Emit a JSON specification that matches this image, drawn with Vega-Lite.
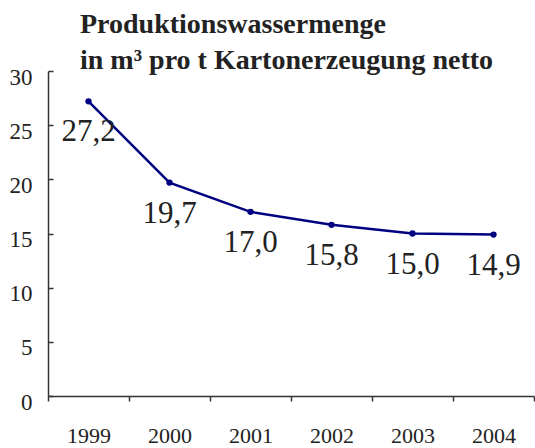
{
  "$schema": "https://vega.github.io/schema/vega-lite/v6.json",
  "width": 486,
  "height": 325,
  "autosize": "none",
  "padding": {"left": 48, "top": 71, "right": 1, "bottom": 52},
  "background": "white",
  "config": {
    "view": {"stroke": null},
    "font": "Liberation Serif",
    "locale": {"number": {"decimal": ",", "thousands": ".", "grouping": [3], "currency": ["", " €"]}}
  },
  "title": {
    "text": ["Produktionswassermenge", "in m³ pro t Kartonerzeugung netto"],
    "anchor": "start",
    "frame": "group",
    "font": "Liberation Serif",
    "fontSize": 28,
    "fontWeight": "bold",
    "color": "#222222",
    "dx": 32,
    "dy": 13,
    "lineHeight": 36,
    "offset": 4
  },
  "data": {
    "values": [
      {"Jahr": 1999, "Wert": 27.2},
      {"Jahr": 2000, "Wert": 19.7},
      {"Jahr": 2001, "Wert": 17.0},
      {"Jahr": 2002, "Wert": 15.8},
      {"Jahr": 2003, "Wert": 15.0},
      {"Jahr": 2004, "Wert": 14.9}
    ]
  },
  "encoding": {
    "x": {
      "field": "Jahr",
      "type": "quantitative",
      "scale": {"domain": [1998.5, 2004.5], "nice": false, "zero": false},
      "axis": {
        "title": null,
        "grid": false,
        "values": [1998.5, 1999.5, 2000.5, 2001.5, 2002.5, 2003.5, 2004.5],
        "labelExpr": "datum.value < 2004 ? format(datum.value + 0.5, 'd') : ''",
        "labelOffset": 40.5,
        "labelFlush": false,
        "labelBound": false,
        "labelOverlap": false,
        "labelFont": "Liberation Serif",
        "labelFontSize": 22,
        "labelColor": "#222222",
        "labelPadding": 24,
        "tickSize": 5,
        "tickWidth": 1.5,
        "tickColor": "#333333",
        "domainColor": "#333333",
        "domainWidth": 1.5
      }
    },
    "y": {
      "field": "Wert",
      "type": "quantitative",
      "scale": {"domain": [0, 30], "nice": false},
      "axis": {
        "title": null,
        "grid": false,
        "values": [0, 5, 10, 15, 20, 25, 30],
        "labelFont": "Liberation Serif",
        "labelFontSize": 23,
        "labelColor": "#222222",
        "labelPadding": 21,
        "labelOffset": 6,
        "labelFlush": false,
        "labelBound": false,
        "tickSize": -5,
        "tickWidth": 1.5,
        "tickColor": "#333333",
        "domainColor": "#333333",
        "domainWidth": 1.5
      }
    }
  },
  "layer": [
    {
      "mark": {
        "type": "line",
        "color": "#000080",
        "strokeWidth": 2.5,
        "point": {"filled": true, "size": 40, "color": "#000080", "opacity": 1}
      }
    },
    {
      "mark": {
        "type": "text",
        "font": "Liberation Serif",
        "fontSize": 31,
        "color": "#222222",
        "align": "center",
        "baseline": "alphabetic",
        "dy": 40
      },
      "encoding": {
        "text": {"field": "Wert", "type": "quantitative", "format": ".1f"}
      }
    }
  ]
}
